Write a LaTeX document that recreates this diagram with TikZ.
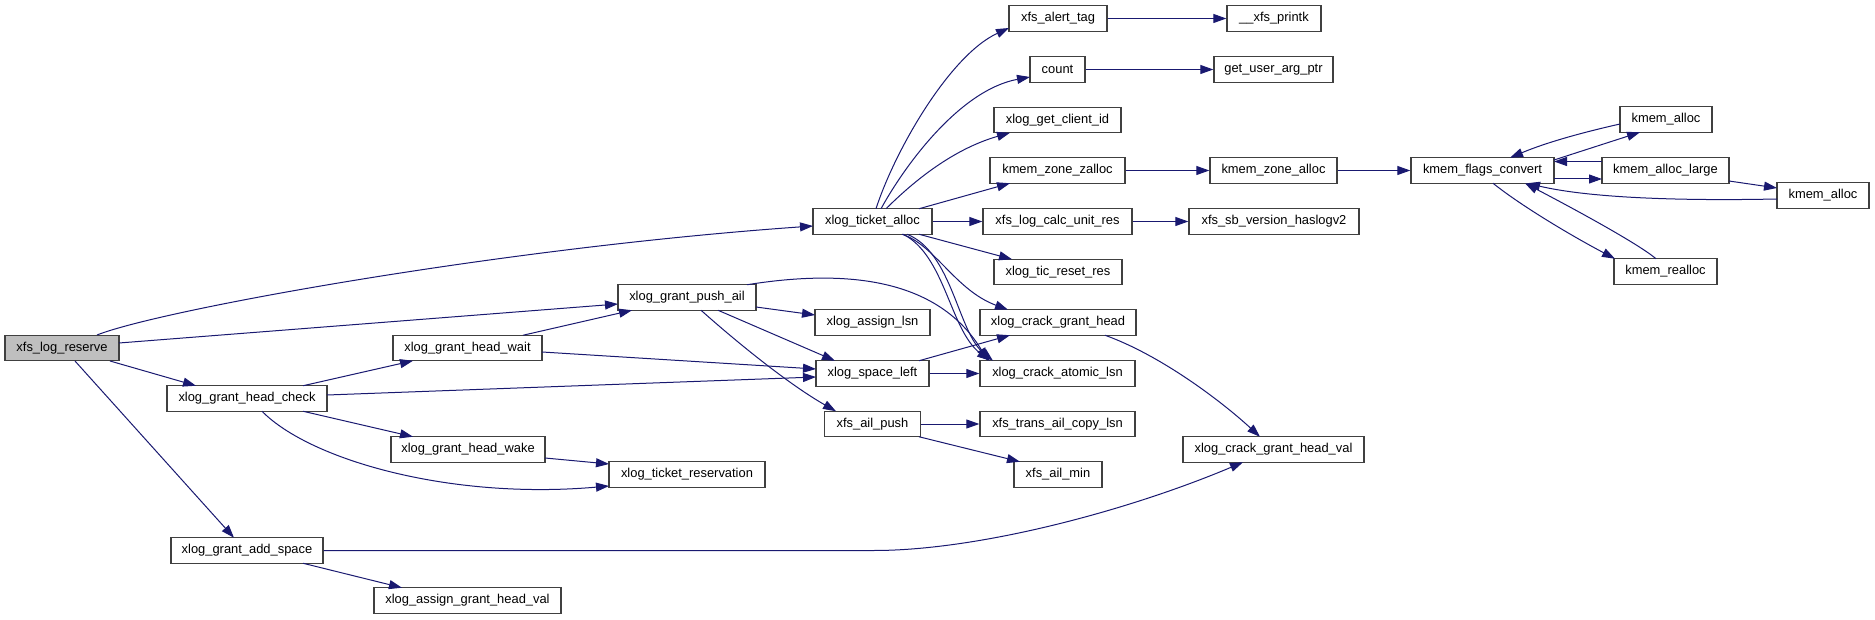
\documentclass[tikz,border=0pt]{standalone}
\usepackage{fontspec}
\setmainfont{Liberation Sans}
\usetikzlibrary{arrows.meta,calc}
\definecolor{edgec}{HTML}{191970}
\definecolor{bordc}{HTML}{404040}
\definecolor{rootc}{HTML}{BFBFBF}
\tikzset{
  fn/.style={draw=bordc, line width=1.3pt, minimum height=25.5pt, inner sep=0pt,
    font=\fontsize{12.9}{15}\selectfont, fill=white},
  rootfn/.style={fn, fill=rootc},
  call/.style={draw=edgec, line width=1pt, -{Triangle[length=13pt,width=9pt]}},
}
\begin{document}
\begin{tikzpicture}[x=1pt,y=-1pt]
\useasboundingbox (0,0) rectangle (1875,620);
% nodes
\node[rootfn, minimum width=114pt] (lr) at (62,348) {xfs\_log\_reserve};
\node[fn, minimum width=160pt] (hc) at (247,398.5) {xlog\_grant\_head\_check};
\node[fn, minimum width=152pt] (as) at (247,550.5) {xlog\_grant\_add\_space};
\node[fn, minimum width=149pt] (hw) at (467.5,348) {xlog\_grant\_head\_wait};
\node[fn, minimum width=154pt] (hk) at (468,449.5) {xlog\_grant\_head\_wake};
\node[fn, minimum width=187pt] (ag) at (467.5,600.5) {xlog\_assign\_grant\_head\_val};
\node[fn, minimum width=138pt] (pa) at (687,297.5) {xlog\_grant\_push\_ail};
\node[fn, minimum width=156pt] (tr) at (687,474.5) {xlog\_ticket\_reservation};
\node[fn, minimum width=119pt] (ta) at (872.5,221.5) {xlog\_ticket\_alloc};
\node[fn, minimum width=115pt] (al) at (872.5,322.5) {xlog\_assign\_lsn};
\node[fn, minimum width=113pt] (sl) at (872.5,373.5) {xlog\_space\_left};
\node[fn, minimum width=96pt] (ap) at (872.5,424) {xfs\_ail\_push};
\node[fn, minimum width=98pt] (at) at (1058,18.5) {xfs\_alert\_tag};
\node[fn, minimum width=55pt] (ct) at (1057.5,69.5) {count};
\node[fn, minimum width=127pt] (gc) at (1057.5,120) {xlog\_get\_client\_id};
\node[fn, minimum width=135pt] (zz) at (1057.5,170.5) {kmem\_zone\_zalloc};
\node[fn, minimum width=149pt] (cu) at (1057.5,221.5) {xfs\_log\_calc\_unit\_res};
\node[fn, minimum width=128pt] (rr) at (1058,272) {xlog\_tic\_reset\_res};
\node[fn, minimum width=156pt] (cg) at (1058,322.5) {xlog\_crack\_grant\_head};
\node[fn, minimum width=155pt] (ca) at (1057.5,373.5) {xlog\_crack\_atomic\_lsn};
\node[fn, minimum width=155pt] (tc) at (1057.5,424) {xfs\_trans\_ail\_copy\_lsn};
\node[fn, minimum width=88pt] (am) at (1058,474.5) {xfs\_ail\_min};
\node[fn, minimum width=94pt] (pk) at (1274,18.5) {\_\_xfs\_printk};
\node[fn, minimum width=119pt] (gu) at (1273.5,69.5) {get\_user\_arg\_ptr};
\node[fn, minimum width=127pt] (za) at (1273.5,170.5) {kmem\_zone\_alloc};
\node[fn, minimum width=170pt] (sb) at (1274,221.5) {xfs\_sb\_version\_haslogv2};
\node[fn, minimum width=181pt] (gv) at (1273.5,449.5) {xlog\_crack\_grant\_head\_val};
\node[fn, minimum width=143pt] (fc) at (1482.5,170.5) {kmem\_flags\_convert};
\node[fn, minimum width=92pt] (kaa) at (1666,119.5) {kmem\_alloc};
\node[fn, minimum width=127pt] (kl) at (1665.5,170.5) {kmem\_alloc\_large};
\node[fn, minimum width=103pt] (kr) at (1665.5,271.5) {kmem\_realloc};
\node[fn, minimum width=92pt] (kab) at (1823,195.5) {kmem\_alloc};
% edges from xfs_log_reserve
\draw[call] ($(lr.center)+(35,-13)$) .. controls (160,310) and (500,248) .. ($(ta.center)+(-59.5,4.5)$);
\draw[call] ($(lr.center)+(57,-5)$) -- ($(pa.center)+(-69,6.5)$);
\draw[call] ($(lr.center)+(48,13)$) -- ($(hc.center)+(-51,-12.75)$);
\draw[call] ($(lr.center)+(13,13)$) -- ($(as.center)+(-13,-12.75)$);
% xlog_grant_head_check
\draw[call] ($(hc.center)+(56,-12.75)$) -- ($(hw.center)+(-54.5,12.75)$);
\draw[call] ($(hc.center)+(80,-3.5)$) -- ($(sl.center)+(-56.5,3.5)$);
\draw[call] ($(hc.center)+(56,12.75)$) -- ($(hk.center)+(-55,-12.75)$);
\draw[call] ($(hc.center)+(15,12.75)$) .. controls (310,460) and (450,500) .. ($(tr.center)+(-78,11.5)$);
% xlog_grant_head_wait / wake
\draw[call] ($(hw.center)+(55.5,-12.75)$) -- ($(pa.center)+(-55,12.75)$);
\draw[call] ($(hw.center)+(74.5,4)$) -- ($(sl.center)+(-56.5,-4.5)$);
\draw[call] ($(hk.center)+(77,8.5)$) -- ($(tr.center)+(-78,-10.5)$);
% xlog_grant_add_space
\draw[call] ($(as.center)+(56,12.75)$) -- ($(ag.center)+(-65.5,-12.75)$);
\draw[call] (as.east) -- (874,550.5) .. controls (980,550.5) and (1130,510) .. ($(gv.center)+(-30.5,12.75)$);
% xlog_grant_push_ail
\draw[call] ($(pa.center)+(69,9.5)$) -- ($(al.center)+(-57.5,-7.5)$);
\draw[call] ($(pa.center)+(31,12.75)$) -- ($(sl.center)+(-37.5,-12.75)$);
\draw[call] ($(pa.center)+(14,12.75)$) .. controls (740,345) and (790,385) .. ($(ap.center)+(-36.5,-12.75)$);
\draw[call] ($(pa.center)+(60,-12.75)$) .. controls (870,265) and (945,290) .. ($(ca.center)+(-69.5,-12.75)$);
% xlog_ticket_alloc
\draw[call] ($(ta.center)+(3.5,-12.75)$) .. controls (895,150) and (950,55) .. ($(at.center)+(-49,9.5)$);
\draw[call] ($(ta.center)+(8.5,-12.75)$) .. controls (905,165) and (960,90) .. ($(ct.center)+(-27.5,7.5)$);
\draw[call] ($(ta.center)+(13.5,-12.75)$) .. controls (910,185) and (950,150) .. ($(gc.center)+(-47.5,12.75)$);
\draw[call] ($(ta.center)+(46.5,-12.75)$) -- ($(zz.center)+(-47.5,12.75)$);
\draw[call] (ta.east) -- (cu.west);
\draw[call] ($(ta.center)+(46.5,12.75)$) -- ($(rr.center)+(-46,-12.75)$);
\draw[call] ($(ta.center)+(29.5,12.75)$) .. controls (935,245) and (955,290) .. ($(cg.center)+(-50,-12.75)$);
\draw[call] ($(ta.center)+(30.5,12.75)$) .. controls (945,255) and (950,330) .. ($(ca.center)+(-67.5,-12.75)$);
\draw[call] ($(ta.center)+(34.5,12.75)$) .. controls (952,252) and (958,332) .. ($(ca.center)+(-64.5,-12.75)$);
% middle column
\draw[call] ($(sl.center)+(46.5,-12.75)$) -- ($(cg.center)+(-48,12.75)$);
\draw[call] (sl.east) -- (ca.west);
\draw[call] (ap.east) -- (tc.west);
\draw[call] ($(ap.center)+(46.5,12.75)$) -- ($(am.center)+(-38,-12.75)$);
\draw[call] (at.east) -- (pk.west);
\draw[call] (ct.east) -- (gu.west);
\draw[call] (zz.east) -- (za.west);
\draw[call] (cu.east) -- (sb.west);
\draw[call] (za.east) -- (fc.west);
\draw[call] ($(cg.center)+(47,12.75)$) .. controls (1160,355) and (1220,400) .. ($(gv.center)+(-13.5,-12.75)$);
% kmem cluster
\draw[call] ($(fc.center)+(71.5,-10.5)$) -- ($(kaa.center)+(-26,12.75)$);
\draw[call] ($(kaa.center)+(-46,4.5)$) .. controls (1580,133) and (1545,143) .. ($(fc.center)+(27.5,-12.75)$);
\draw[call] ($(kl.center)+(-63.5,-9)$) -- ($(fc.center)+(71.5,-9)$);
\draw[call] ($(fc.center)+(71.5,8.5)$) -- ($(kl.center)+(-63.5,8.5)$);
\draw[call] ($(kl.center)+(63.5,10.5)$) -- ($(kab.center)+(-46,-7.5)$);
\draw[call] ($(kab.center)+(-46,3.5)$) .. controls (1680,201) and (1590,198) .. ($(fc.center)+(44.5,12.75)$);
\draw[call] ($(fc.center)+(10.5,12.75)$) .. controls (1520,205) and (1570,235) .. ($(kr.center)+(-50.5,-12.75)$);
\draw[call] ($(kr.center)+(-9.5,-12.75)$) .. controls (1640,245) and (1580,212) .. ($(fc.center)+(42.5,12.75)$);
\end{tikzpicture}
\end{document}
